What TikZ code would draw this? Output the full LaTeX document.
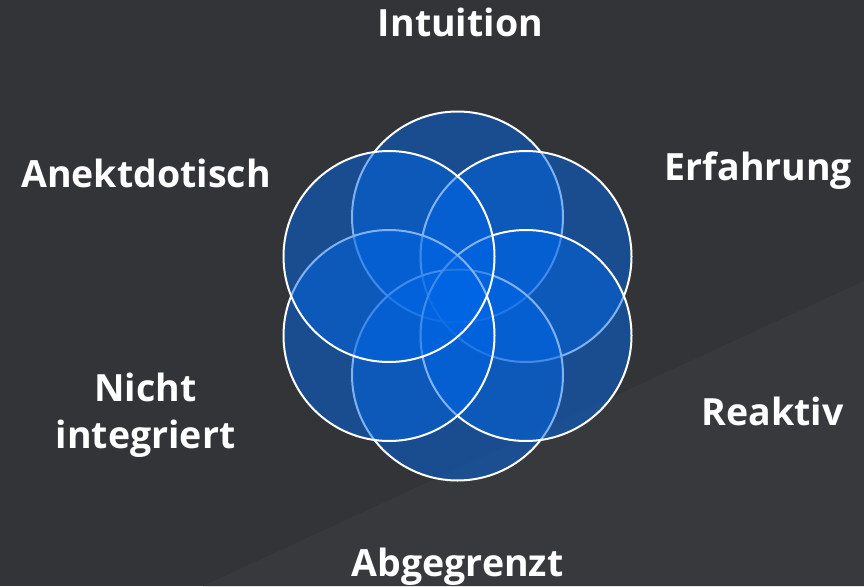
\documentclass[tikz,border=0pt]{standalone}
\usepackage{fontspec}
\setmainfont{Open Sans}
\definecolor{bgdark}{HTML}{333438}
\definecolor{bgband}{HTML}{38393D}
\definecolor{petal}{HTML}{0066E6}
\tikzset{
  petalc/.style={circle, minimum size=211pt, inner sep=0pt, fill=petal, fill opacity=0.5, draw=white, draw opacity=1, line width=2pt},
  lbl/.style={text=white, font=\fontsize{37.5}{47}\selectfont\bfseries, anchor=base, inner sep=0pt, align=center}
}
\begin{document}
\begin{tikzpicture}[x=1pt,y=-1pt]
\useasboundingbox (0,0) rectangle (864,586);
\fill[bgdark] (0,0) rectangle (864,586);
\fill[bgband] (864,281) -- (203,586) -- (864,586) -- cycle;
% petals
\node[petalc] (top) at (457.5,217) {};
\node[petalc] (ur) at (526,256.5) {};
\node[petalc] (bot) at (457.5,375) {};
\node[petalc] (lr) at (526,335.5) {};
\node[petalc] (ll) at (389,335.5) {};
\node[petalc] (ul) at (389,256.5) {};
% labels
\node[lbl] (intuition) at (460.5,37) {Intuition};
\node[lbl] (erfahrung) at (758.5,180) {Erfahrung};
\node[lbl] (reaktiv) at (772.5,425) {Reaktiv};
\node[lbl] (abgegrenzt) at (457.5,576) {Abgegrenzt};
\node[lbl, anchor=north] (nicht) at (145.5,373) {Nicht\\integriert};
\node[lbl] (anekt) at (146,187) {Anektdotisch};
\end{tikzpicture}
\end{document}
